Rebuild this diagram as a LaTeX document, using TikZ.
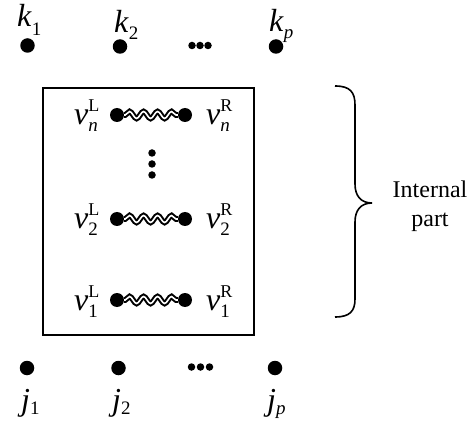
\documentclass[tikz,border=0pt]{standalone}
\usepackage{fontspec}
\setmainfont{Liberation Serif}
\usetikzlibrary{decorations.pathmorphing}
\newcommand\mysub[2]{\raisebox{-#1}{\fontsize{19}{19}\selectfont #2}}
\newcommand\vlab[2]{\textit{v}\rlap{\raisebox{13pt}{\fontsize{18}{18}\selectfont #1}}\raisebox{-7pt}{\fontsize{19}{19}\selectfont #2}}
\tikzset{
  bigdot/.style={circle,fill=black,inner sep=0pt,minimum size=14.5pt},
  smalldot/.style={circle,fill=black,inner sep=0pt,minimum size=7.5pt},
  enddot/.style={circle,fill=black,inner sep=0pt,minimum size=14pt},
  lab/.style={inner sep=0pt,anchor=base west,font=\fontsize{32}{32}\selectfont},
  wig/.style={double,line width=2pt,double distance=1.6pt,decorate,
    decoration={snake,amplitude=3.5pt,segment length=14pt,pre length=1pt,post length=1pt}},
  frame/.style={line width=2pt},
  itext/.style={inner sep=0pt,anchor=base,font=\fontsize{24}{24}\selectfont},
}
\begin{document}
\begin{tikzpicture}[x=1pt,y=-1pt]
\useasboundingbox (0,0) rectangle (474,422);
% top terminals
\node[bigdot] (k1) at (27.5,45.5) {};
\node[bigdot] (k2) at (120,46.5) {};
\node[bigdot] (kp) at (276,46.5) {};
\node[smalldot] (ka) at (192,45.5) {};
\node[smalldot] (kb) at (200,45.5) {};
\node[smalldot] (kc) at (208,45.5) {};
\node[lab] (lk1) at (17,27) {\textit{k}\mysub{9pt}{1}};
\node[lab] (lk2) at (114,33) {\textit{k}\mysub{7pt}{2}};
\node[lab] (lkp) at (269,32) {\textit{k}\mysub{7pt}{\textit{p}}};
% box
\draw[frame] (43,88) rectangle (254,335);
% rows
\foreach \r/\y/\s in {n/115/\textit{n}, 2/219/2, 1/300/1}{
  \node[enddot] (L\r) at (117,\y) {};
  \node[enddot] (R\r) at (185,\y) {};
  \draw[wig] (L\r) -- (R\r);
  \node[lab] (vl\r) at (74,\y+10) {\vlab{L}{\s}};
  \node[lab] (vr\r) at (206,\y+10) {\vlab{R}{\s}};
}
\node[smalldot] (va) at (152,153) {};
\node[smalldot] (vb) at (152,164) {};
\node[smalldot] (vc) at (152,175) {};
% bottom terminals
\node[bigdot] (j1) at (27,368) {};
\node[bigdot] (j2) at (118.5,368) {};
\node[bigdot] (jp) at (275,368) {};
\node[smalldot] (ja) at (191.5,367) {};
\node[smalldot] (jb) at (200.5,367) {};
\node[smalldot] (jc) at (209.5,367) {};
\node[lab] (lj1) at (21,410) {\textit{j}\mysub{4pt}{1}};
\node[lab] (lj2) at (112,410) {\textit{j}\mysub{4pt}{2}};
\node[lab] (ljp) at (267,410) {\textit{j}\mysub{4pt}{\textit{p}}};
% brace
\draw[line width=1.6pt] (335,86) .. controls (350,86) and (355,92) .. (355,105)
  -- (355,184) .. controls (355,196) and (361,203) .. (372,203)
  .. controls (361,203) and (355,210) .. (355,222)
  -- (355,299) .. controls (355,311) and (350,317) .. (335,317);
\node[itext] (ip1) at (430,198) {Internal};
\node[itext] (ip2) at (430,227) {part};
\end{tikzpicture}
\end{document}
